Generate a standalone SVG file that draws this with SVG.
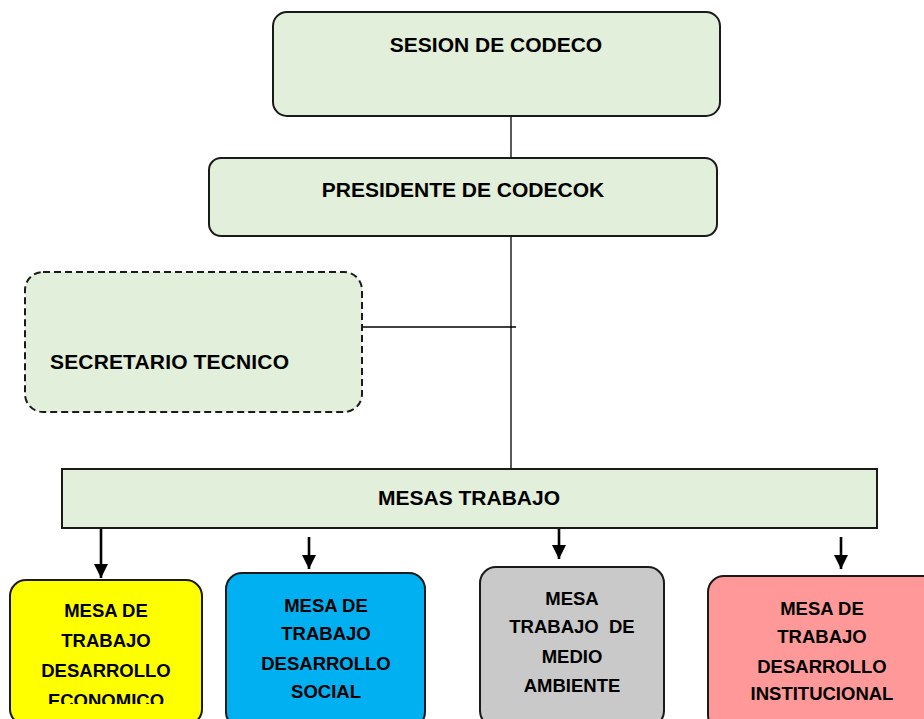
<svg xmlns="http://www.w3.org/2000/svg" width="924" height="719" viewBox="0 0 924 719">
<style>
text{font-family:"Liberation Sans",Arial,sans-serif;font-weight:bold;fill:#000;}
.t{font-size:21px;}
.s{font-size:18.5px;text-anchor:middle;}
.g{fill:#e2efda;stroke:#1a1a1a;stroke-width:2;}
.b{stroke:#1a1a1a;stroke-width:2;}
.ln{stroke:#000;stroke-width:1.3;fill:none;}
.ar{stroke:#000;stroke-width:2.6;fill:none;}
</style>
<defs>
<marker id="ah" markerWidth="15" markerHeight="15" refX="14" refY="7.5" orient="auto" markerUnits="userSpaceOnUse">
<path d="M0,0.5 L14,7.5 L0,14.5 Z" fill="#000"/>
</marker>
<clipPath id="clipY"><rect x="10" y="580" width="192" height="124"/></clipPath>
</defs>
<g id="connectors">
<line class="ln" x1="511" y1="116" x2="511" y2="158"/>
<line class="ln" x1="511" y1="236" x2="511" y2="469"/>
<line class="ln" x1="362" y1="327" x2="516" y2="327"/>
<line class="ar" x1="101" y1="528" x2="101" y2="578" marker-end="url(#ah)"/>
<line class="ar" x1="309" y1="537" x2="309" y2="569" marker-end="url(#ah)"/>
<line class="ar" x1="559" y1="528" x2="559" y2="559" marker-end="url(#ah)"/>
<line class="ar" x1="841" y1="537" x2="841" y2="569" marker-end="url(#ah)"/>
</g>
<g id="sesion">
<rect class="g" x="273" y="12" width="447" height="104" rx="14"/>
<text class="t" x="496" y="52" text-anchor="middle">SESION DE CODECO</text>
</g>
<g id="presidente">
<rect class="g" x="209" y="158" width="508" height="78" rx="12"/>
<text class="t" x="463" y="197" text-anchor="middle">PRESIDENTE DE CODECOK</text>
</g>
<g id="secretario">
<rect x="25" y="272" width="337" height="140" rx="18" fill="#e2efda" stroke="#1a1a1a" stroke-width="2" stroke-dasharray="7,4"/>
<text class="t" x="50" y="369" textLength="239">SECRETARIO TECNICO</text>
</g>
<g id="mesas">
<rect class="g" x="62" y="469" width="815" height="59"/>
<text class="t" x="469" y="505" text-anchor="middle">MESAS TRABAJO</text>
</g>
<g id="economico">
<rect class="b" x="10" y="580" width="192" height="145" rx="16" fill="#ffff00"/>
<g clip-path="url(#clipY)">
<text class="s" x="106" y="617">MESA DE</text>
<text class="s" x="106" y="647">TRABAJO</text>
<text class="s" x="106" y="677">DESARROLLO</text>
<text class="s" x="106" y="707">ECONOMICO</text>
</g>
</g>
<g id="social">
<rect class="b" x="226" y="573" width="199" height="155" rx="16" fill="#00b0f0"/>
<text class="s" x="326" y="612">MESA DE</text>
<text class="s" x="326" y="640">TRABAJO</text>
<text class="s" x="326" y="670">DESARROLLO</text>
<text class="s" x="326" y="698">SOCIAL</text>
</g>
<g id="ambiente">
<rect class="b" x="480" y="567" width="184" height="160" rx="16" fill="#c9c9c9"/>
<text class="s" x="572" y="605">MESA</text>
<text class="s" x="572" y="633" xml:space="preserve">TRABAJO  DE</text>
<text class="s" x="572" y="663">MEDIO</text>
<text class="s" x="572" y="692">AMBIENTE</text>
</g>
<g id="institucional">
<rect class="b" x="708" y="576" width="230" height="155" rx="16" fill="#ff9999"/>
<text class="s" x="822" y="615">MESA DE</text>
<text class="s" x="822" y="643">TRABAJO</text>
<text class="s" x="822" y="673">DESARROLLO</text>
<text class="s" x="822" y="700">INSTITUCIONAL</text>
</g>
</svg>
